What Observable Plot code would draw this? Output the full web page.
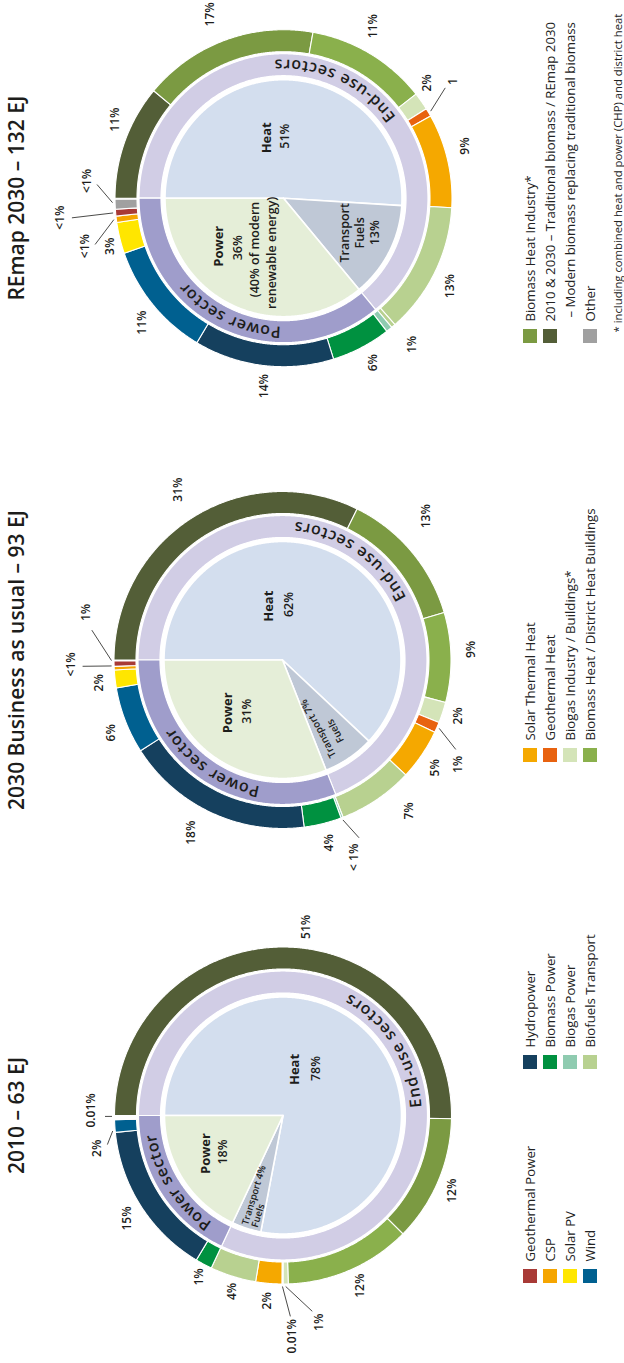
<!DOCTYPE html>
<html>
<head>
<meta charset="utf-8">
<script src="https://cdn.jsdelivr.net/npm/d3@7"></script>
<script src="https://cdn.jsdelivr.net/npm/@observablehq/plot@0.6"></script>
<style>
  html, body { margin: 0; padding: 0; background: #fff; }
  #wrap { position: relative; width: 624px; height: 1363px; overflow: hidden; }
  #chart { position: absolute; left: 0; top: 0; width: 1363px; height: 624px;
           transform-origin: 0 0; transform: translateY(1363px) rotate(-90deg); }
</style>
</head>
<body>
<div id="wrap"><div id="chart"></div></div>
<script>
// ================= DATA =================
const sources = ["Geothermal Power","CSP","Solar PV","Wind","Hydropower","Biomass Power","Biogas Power","Biofuels Transport",
  "Solar Thermal Heat","Geothermal Heat","Biogas Industry / Buildings*","Biomass Heat / District Heat Buildings",
  "Biomass Heat Industry*","Traditional biomass","Other"];
const sourceColors = ["#a83a36","#f5a500","#ffe600","#006090","#15405e","#009140","#8fcbb0","#b8d190",
  "#f5a800","#e8620f","#d4e4b8","#8ab04c","#7b9a42","#535e37","#a0a0a0"];

const sectors = ["Heat","Transport","Power"];
const sectorColors = ["#d3deee","#bfc8d6","#e5eed8"];
const rings = ["End-use sectors","Power sector"];
const ringColors = ["#d1cde5","#9f9dcb"];

const scenarios = ["2010 – 63 EJ","2030 Business as usual – 93 EJ","REmap 2030 – 132 EJ"];

// inner pie: Heat, Transport, Power (%)
const pie2010 = [78, 4, 18];
const pieBAU = [62, 7, 31];
const pieREmap = [51, 13, 36];

// outer ring, clockwise from 12 o'clock
const mix2010Sources = ["Traditional biomass","Biomass Heat Industry*","Biomass Heat / District Heat Buildings","Biogas Industry / Buildings*",
  "Geothermal Heat","Solar Thermal Heat","Biofuels Transport","Biomass Power","Hydropower","Wind","Geothermal Power"];
const mix2010Values = [50.3, 12.1, 12.1, 0.5, 0.1, 2.5, 4.4, 1.6, 14.8, 1.2, 0.01];
const mix2010Labels = ["51%","12%","12%","1%","0.01%","2%","4%","1%","15%","2%","0.01%"];

const mixBAUSources = ["Traditional biomass","Biomass Heat Industry*","Biomass Heat / District Heat Buildings","Biogas Industry / Buildings*",
  "Geothermal Heat","Solar Thermal Heat","Biofuels Transport","Biogas Power","Biomass Power","Hydropower","Wind","Solar PV","CSP","Geothermal Power"];
const mixBAUValues = [32.3, 13.15, 8.6, 2.0, 1.0, 4.9, 7.2, 0.2, 3.6, 18.0, 6.4, 1.7, 0.35, 0.5];
const mixBAULabels = ["31%","13%","9%","2%","1%","5%","7%","< 1%","4%","18%","6%","2%","<1%","1%"];

const mixREmapSources = ["Traditional biomass","Biomass Heat Industry*","Biomass Heat / District Heat Buildings","Biogas Industry / Buildings*",
  "Geothermal Heat","Solar Thermal Heat","Biofuels Transport","Biofuels Transport","Biogas Power","Biomass Power","Hydropower","Wind",
  "Solar PV","CSP","Geothermal Power","Other"];
const mixREmapValues = [11, 16.8, 11.6, 1.7, 0.8, 9.0, 12.6, 0.4, 0.6, 5.7, 13.4, 11.1, 3.0, 0.6, 0.65, 0.95];
const mixREmapLabels = ["11%","17%","11%","2%","1","9%","13%","","1%","6%","14%","11%","3%","<1%","<1%","<1%"];

const legendKeys = [
  ["Geothermal Power","CSP","Solar PV","Wind"],
  ["Hydropower","Biomass Power","Biogas Power","Biofuels Transport"],
  ["Solar Thermal Heat","Geothermal Heat","Biogas Industry / Buildings*","Biomass Heat / District Heat Buildings"],
  ["Biomass Heat Industry*","Traditional biomass",null,"Other"]
];
const legendTexts = [
  ["Geothermal Power","CSP","Solar PV","Wind"],
  ["Hydropower","Biomass Power","Biogas Power","Biofuels Transport"],
  ["Solar Thermal Heat","Geothermal Heat","Biogas Industry / Buildings*","Biomass Heat / District Heat Buildings"],
  ["Biomass Heat Industry*","2010 & 2030 – Traditional biomass / REmap 2030","– Modern biomass replacing traditional biomass","Other"]
];
const footnote = "* including combined heat and power (CHP) and district heat";

// ================= LAYOUT (not data) =================
const W = 1363, H = 624;
const centers = [[247, 282.5], [702.5, 282], [1164.3, 283]];
const R = {out: 168.5, outIn: 146.5, lav: 144.5, lavIn: 122.5, pie: 118.5, leader: 171, text: 133.5};

// label placement [angle deg clockwise from 12, radius]
const place2010 = [[97,190],[204,185],[245.6,187],[260,210],[267.5,221],[275,186],[286,183],[297.5,182],[326.6,187],[350,189],[1.5,192]];
const placeBAU = [[58.4,200],[134.9,203],[176.8,188.6],[197.7,184],[210.8,204],[215.2,187],[230,197],[250,210],[255.7,188.7],[298,195.6],[337,186.5],[352.9,184.8],[358.8,211.7],[13.6,202]];
const placeREmap = [[25,186],[68.2,198],[117.6,194],[141.2,184],[145.5,206],[164,189],[207.8,188.5],null,[228.7,194.7],[241.3,187.6],[276,189],[318.7,188.6],[344.5,180],[346.4,204],[355,224],[5,197]];
// leader lines: index -> [end angle, end radius, optional start angle]
const lead2010 = {3:[261.5,198], 4:[267.9,201], 9:[350.6,178,354.8], 10:[359.7,178,359.7]};
const leadBAU = {4:[207.3,195], 7:[246.7,193.6], 12:[358.2,200,358], 13:[8.9,193,359.8]};
const leadREmap = {4:[145.7,195.8], 13:[346.2,194], 14:[354.7,212.5], 15:[4.2,187,358.5]};

// pie texts: offsets from donut center
const pieText2010 = [
  {t:"Heat", dx:46, dy:11.5, k:"name"}, {t:"78%", dx:47, dy:32.5, k:"val"},
  {t:"Power", dx:-38, dy:-77.5, k:"name"}, {t:"18%", dx:-36.5, dy:-60, k:"val"},
  {t:"Transport 4%", dx:-109, dy:-38, k:"slant", rot:17, size:9.5},
  {t:"Fuels", dx:-111.5, dy:-28.3, k:"slant", rot:17, size:9.5}
];
const pieTextBAU = [
  {t:"Heat", dx:53.8, dy:-13.4, k:"name"}, {t:"62%", dx:55.5, dy:6.6, k:"val"},
  {t:"Power", dx:-52.8, dy:-55, k:"name"}, {t:"31%", dx:-51.2, dy:-35.7, k:"val"},
  {t:"Transport 7%", dx:-97, dy:51, k:"slant", rot:-28, size:10},
  {t:"Fuels", dx:-82, dy:59, k:"slant", rot:-28, size:10}
];
const pieTextREmap = [
  {t:"Heat", dx:60.4, dy:-16.6, k:"name"}, {t:"51%", dx:62, dy:1.7, k:"val"},
  {t:"Power", dx:-48, dy:-65, k:"name"}, {t:"36%", dx:-49.6, dy:-46, k:"val"},
  {t:"(40% of modern", dx:-51.3, dy:-28.3, k:"val"}, {t:"renewable energy)", dx:-54.6, dy:-11.6, k:"val"},
  {t:"Transport", dx:-34.6, dy:61.7, k:"val"}, {t:"Fuels", dx:-34.6, dy:76.7, k:"val"}, {t:"13%", dx:-34.6, dy:91.7, k:"val"}
];

const legendColX = [80, 294, 601, 1020];
const legendRowY = [530, 550, 570, 590];

const FONT = "'Open Sans', 'Noto Sans', sans-serif";
const INK = "#1d1d1b";

// ================= GEOMETRY =================
const donuts = [
  {pie: pie2010, src: mix2010Sources, val: mix2010Values, lab: mix2010Labels, place: place2010, lead: lead2010, txt: pieText2010},
  {pie: pieBAU, src: mixBAUSources, val: mixBAUValues, lab: mixBAULabels, place: placeBAU, lead: leadBAU, txt: pieTextBAU},
  {pie: pieREmap, src: mixREmapSources, val: mixREmapValues, lab: mixREmapLabels, place: placeREmap, lead: leadREmap, txt: pieTextREmap}
];

function pt(c, r, deg) { const a = deg * Math.PI / 180; return [c[0] + r * Math.sin(a), c[1] - r * Math.cos(a)]; }
function arcPts(c, r, a0, a1) {
  const n = Math.max(2, Math.ceil(Math.abs(a1 - a0) / 0.4) + 1);
  return d3.range(n).map(i => pt(c, r, a0 + (a1 - a0) * i / (n - 1)));
}
function annulus(c, r0, r1, a0, a1) { const p = [...arcPts(c, r1, a0, a1), ...arcPts(c, r0, a1, a0)]; p.push(p[0]); return p; }
function wedge(c, r, a0, a1) { const p = [c, ...arcPts(c, r, a0, a1)]; p.push(c); return p; }
function spans(values) { let s = 0; return values.map(v => { const a0 = s * 3.6; s += v; return [a0, s * 3.6]; }); }

const ctx = document.createElement("canvas").getContext("2d");
const CURVE = {size: 16, weight: 600, ls: 1.0};

const pieShapes = [], lavShapes = [], outShapes = [], labels = [], leaders = [], chars = [], pieTexts = [];

function curved(text, c, mid, top) {
  ctx.font = `${CURVE.weight} ${CURVE.size}px "Open Sans"`;
  const chs = [...text];
  const ws = chs.map(ch => ctx.measureText(ch).width);
  const total = d3.sum(ws) + CURVE.ls * (ws.length - 1);
  const span = total / R.text * 180 / Math.PI;
  let acc = 0;
  chs.forEach((ch, i) => {
    const off = (acc + ws[i] / 2) / R.text * 180 / Math.PI;
    const th = top ? mid - span / 2 + off : mid + span / 2 - off;
    const [x, y] = pt(c, R.text, th);
    chars.push({ch, x, y, rot: top ? th : th - 180});
    acc += ws[i] + CURVE.ls;
  });
}

donuts.forEach((d, k) => {
  const c = centers[k];
  spans(d.pie).forEach(([a0, a1], i) =>
    wedge(c, R.pie, a0, a1).forEach(([x, y]) => pieShapes.push({id: `p${k}-${i}`, cat: sectors[i], x, y})));
  const endUse = (d.pie[0] + d.pie[1]) * 3.6;
  annulus(c, R.lavIn, R.lav, 0, endUse).forEach(([x, y]) => lavShapes.push({id: `l${k}-0`, cat: rings[0], x, y}));
  annulus(c, R.lavIn, R.lav, endUse, 360).forEach(([x, y]) => lavShapes.push({id: `l${k}-1`, cat: rings[1], x, y}));
  const sp = spans(d.val);
  sp.forEach(([a0, a1], i) =>
    annulus(c, R.outIn, R.out, a0, a1).forEach(([x, y]) => outShapes.push({id: `o${k}-${i}`, cat: d.src[i], x, y})));
  d.lab.forEach((t, i) => {
    if (!t || !d.place[i]) return;
    const [x, y] = pt(c, d.place[i][1], d.place[i][0]);
    labels.push({t, x, y});
  });
  Object.entries(d.lead).forEach(([i, l]) => {
    const s = sp[+i];
    const a0 = l[2] !== undefined ? l[2] : (s[0] + s[1]) / 2;
    const [x1, y1] = pt(c, R.leader, a0);
    const [x2, y2] = pt(c, l[1], l[0]);
    leaders.push({x1, y1, x2, y2});
  });
  curved(rings[0], c, endUse / 2, false);
  curved(rings[1], c, (endUse + 360) / 2, true);
  d.txt.forEach(p => pieTexts.push({...p, x: c[0] + p.dx, y: c[1] + p.dy}));
});

const legendRows = [];
legendTexts.forEach((col, ci) => col.forEach((t, ri) => {
  const key = legendKeys[ci][ri];
  legendRows.push({key, t, x: legendColX[ci], y: legendRowY[ri],
    tx: legendColX[ci] + 21 + (key ? 0 : 4)});
}));

// ================= PLOT =================
const chart = Plot.plot({
  width: W, height: H, margin: 0,
  x: {domain: [0, W], range: [0, W], axis: null},
  y: {domain: [0, H], range: [0, H], axis: null},
  color: {domain: [...sources, ...sectors, ...rings], range: [...sourceColors, ...sectorColors, ...ringColors]},
  style: {background: "#fff", overflow: "visible"},
  marks: [
    Plot.line(pieShapes, {x: "x", y: "y", z: "id", fill: "cat", stroke: "#fff", strokeWidth: 1.6}),
    Plot.line(lavShapes, {x: "x", y: "y", z: "id", fill: "cat", stroke: "#fff", strokeWidth: 1.2}),
    Plot.line(outShapes, {x: "x", y: "y", z: "id", fill: "cat", stroke: "#fff", strokeWidth: 1.1}),
    Plot.link(leaders, {x1: "x1", y1: "y1", x2: "x2", y2: "y2", stroke: INK, strokeWidth: 0.8}),
    Plot.text(labels, {x: "x", y: "y", text: "t", fontSize: 12, fontWeight: 600, fill: INK, fontFamily: FONT}),
    Plot.text(chars, {x: "x", y: "y", text: "ch", rotate: "rot", fontSize: CURVE.size, fontWeight: CURVE.weight, fill: INK, fontFamily: FONT}),
    Plot.text(pieTexts.filter(p => p.k === "name"), {x: "x", y: "y", text: "t", fontSize: 13, fontWeight: 700, fill: INK, fontFamily: FONT}),
    Plot.text(pieTexts.filter(p => p.k === "val"), {x: "x", y: "y", text: "t", fontSize: 12.5, fontWeight: 600, fill: INK, fontFamily: FONT}),
    Plot.text(pieTexts.filter(p => p.k === "slant"), {x: "x", y: "y", text: "t", rotate: "rot", fontSize: "size", textAnchor: "start", fontWeight: 600, fill: INK, fontFamily: FONT}),
    Plot.text(scenarios, {x: (d, i) => centers[i][0], y: () => 17, text: d => d, fontSize: 21, fontWeight: 600, fill: INK, fontFamily: FONT}),
    Plot.rect(legendRows.filter(r => r.key), {x1: r => r.x, x2: r => r.x + 14, y1: r => r.y - 7, y2: r => r.y + 7, fill: "key"}),
    Plot.text(legendRows, {x: "tx", y: "y", text: "t", textAnchor: "start", fontSize: 13.2, fill: "#222", fontFamily: FONT}),
    Plot.text([footnote], {x: () => legendColX[3] + 10, y: () => 617.5, text: d => d, textAnchor: "start", fontSize: 11.3, fill: "#222", fontFamily: FONT})
  ]
});
document.getElementById("chart").appendChild(chart);
</script>
</body>
</html>
